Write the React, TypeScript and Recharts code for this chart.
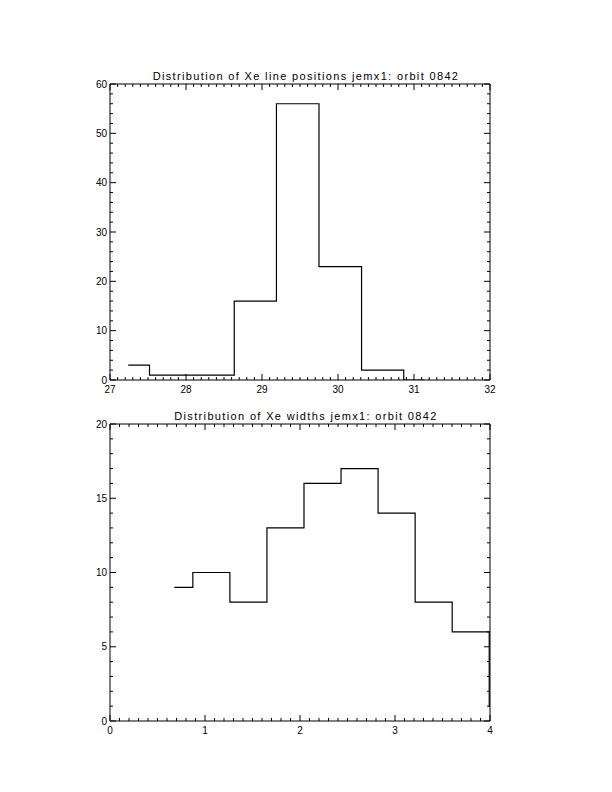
import { LineChart, Line, XAxis, YAxis } from 'recharts';

// Xe line positions: bin centres and counts
const posBins = [27.24, 27.8, 28.36, 28.91, 29.47, 30.03, 30.59, 31.14];
const posCounts = [3, 1, 1, 16, 56, 23, 2, 0];
const posXTicks = [27, 28, 29, 30, 31, 32];
const posYTicks = [0, 10, 20, 30, 40, 50, 60];

// Xe line widths: bin centres and counts
const widthBins = [0.677, 1.067, 1.457, 1.847, 2.237, 2.627, 3.017, 3.407, 3.797, 4.187];
const widthCounts = [9, 10, 8, 13, 16, 17, 14, 8, 6, 1];
const widthXTicks = [0, 1, 2, 3, 4];
const widthYTicks = [0, 5, 10, 15, 20];

const FONT = '"Liberation Sans", Arial, sans-serif';

const tickRange = (min: number, max: number, step: number) => {
  const out: number[] = [];
  const n = Math.round((max - min) / step);
  for (let i = 0; i <= n; i++) out.push(Math.round((min + i * step) * 1000) / 1000);
  return out;
};

type Side = 'bottom' | 'top' | 'left' | 'right';

// inward tick marks, long for labelled values, short otherwise
const makeTick = (side: Side, majors: number[], labelled: boolean) => (props: any) => {
  const { x, y, payload } = props;
  const v = payload.value;
  const major = majors.some((m) => Math.abs(m - v) < 1e-6);
  const len = major ? 6 : 3;
  let line;
  let label = null;
  if (side === 'bottom') {
    line = <line x1={x} y1={y} x2={x} y2={y - len} stroke="#000" />;
    if (labelled && major)
      label = <text x={x} y={y + 13} textAnchor="middle" fontSize={10} fontFamily={FONT}>{v}</text>;
  } else if (side === 'top') {
    line = <line x1={x} y1={y} x2={x} y2={y + len} stroke="#000" />;
  } else if (side === 'left') {
    line = <line x1={x} y1={y} x2={x + len} y2={y} stroke="#000" />;
    if (labelled && major)
      label = <text x={x - 3} y={y + 3.5} textAnchor="end" fontSize={10} fontFamily={FONT}>{v}</text>;
  } else {
    line = <line x1={x} y1={y} x2={x - len} y2={y} stroke="#000" />;
  }
  return (
    <g>
      {line}
      {label}
    </g>
  );
};

type HistProps = {
  top: number;
  height: number;
  title: string;
  bins: number[];
  counts: number[];
  xMajor: number[];
  yMajor: number[];
  xStep: number;
  yStep: number;
};

function Histogram({ top, height, title, bins, counts, xMajor, yMajor, xStep, yStep }: HistProps) {
  const data = bins.map((x, i) => ({ x, n: counts[i] }));
  const xDomain = [xMajor[0], xMajor[xMajor.length - 1]];
  const yDomain = [yMajor[0], yMajor[yMajor.length - 1]];
  const xt = tickRange(xDomain[0], xDomain[1], xStep);
  const yt = tickRange(yDomain[0], yDomain[1], yStep);
  const axisLine = { stroke: '#000', strokeWidth: 1 };
  const common = { tickLine: false, tickSize: 0, tickMargin: 0, interval: 0 as const, allowDataOverflow: true, axisLine };

  return (
    <div style={{ position: 'absolute', left: 0, top, width: 612, height }}>
      <div
        style={{
          position: 'absolute',
          left: 0,
          top: 11,
          width: 612,
          textAlign: 'center',
          fontFamily: FONT,
          fontSize: 11,
          lineHeight: '11px',
          letterSpacing: '1.35px',
          color: '#000',
        }}
      >
        {title}
      </div>
      <LineChart width={612} height={height} data={data} margin={{ top: 23, right: 121, bottom: 0, left: 80 }}>
        <XAxis xAxisId="b" dataKey="x" type="number" domain={xDomain} ticks={xt} height={20} tick={makeTick('bottom', xMajor, true)} {...common} />
        <XAxis xAxisId="t" orientation="top" dataKey="x" type="number" domain={xDomain} ticks={xt} height={1} tick={makeTick('top', xMajor, false)} {...common} />
        <YAxis yAxisId="l" type="number" domain={yDomain} ticks={yt} width={30} tick={makeTick('left', yMajor, true)} {...common} />
        <YAxis yAxisId="r" orientation="right" type="number" domain={yDomain} ticks={yt} width={1} tick={makeTick('right', yMajor, false)} {...common} />
        {/* same counts on the mirrored axes so the top/right frame gets drawn */}
        <Line
          xAxisId="t"
          yAxisId="r"
          type="step"
          dataKey="n"
          stroke="none"
          dot={false}
          activeDot={false}
          legendType="none"
          isAnimationActive={false}
        />
        <Line
          xAxisId="b"
          yAxisId="l"
          type="step"
          dataKey="n"
          stroke="#000"
          strokeWidth={1.2}
          dot={false}
          activeDot={false}
          isAnimationActive={false}
        />
      </LineChart>
    </div>
  );
}

export default function App() {
  return (
    <div style={{ position: 'absolute', left: 0, top: 0, width: 612, height: 792, background: '#fff' }}>
      <Histogram
        top={60}
        height={340}
        title="Distribution of Xe line positions jemx1: orbit 0842"
        bins={posBins}
        counts={posCounts}
        xMajor={posXTicks}
        yMajor={posYTicks}
        xStep={0.1}
        yStep={2}
      />
      <Histogram
        top={400}
        height={341}
        title="Distribution of Xe widths jemx1: orbit 0842"
        bins={widthBins}
        counts={widthCounts}
        xMajor={widthXTicks}
        yMajor={widthYTicks}
        xStep={0.1}
        yStep={1}
      />
    </div>
  );
}
